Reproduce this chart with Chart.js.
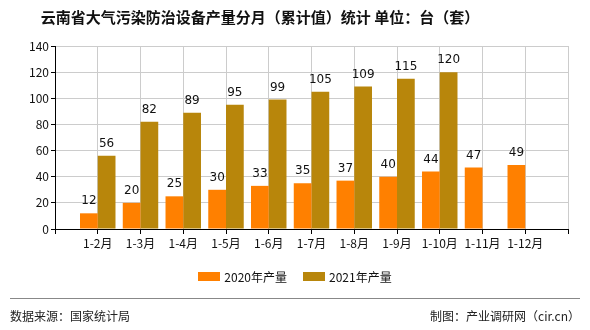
<!DOCTYPE html>
<html>
<head>
<meta charset="utf-8">
<script src="https://cdn.jsdelivr.net/npm/chart.js@4/dist/chart.umd.min.js"></script>
<style>
  html, body { margin: 0; padding: 0; background: #fff; }
  #wrap { position: relative; width: 590px; height: 330px; overflow: hidden; font-family: "Noto Sans CJK SC", "DejaVu Sans", sans-serif; }
  #title { position: absolute; left: 2px; top: 6px; width: 516px; text-align: center; font-size: 15px; font-weight: bold; color: #111; }
  #legend { position: absolute; left: 0; top: 268px; width: 590px; display: flex; justify-content: center; gap: 16px; font-size: 12px; color: #111; }
  #legend span.item { display: flex; align-items: center; }
  #legend i { display: inline-block; width: 22px; height: 9px; margin-right: 4px; }
  #rule { position: absolute; left: 10px; top: 298px; width: 570px; height: 1px; background: #888; }
  .foot { position: absolute; top: 307px; font-size: 12px; color: #222; }
  canvas { position: absolute; left: 0; top: 0; }
</style>
</head>
<body>
<div id="wrap">
  <canvas id="c" width="590" height="330"></canvas>
  <div id="title">云南省大气污染防治设备产量分月（累计值）统计 单位：台（套）</div>
  <div id="legend"></div>
  <div id="rule"></div>
  <div class="foot" style="left:10px">数据来源：国家统计局</div>
  <div class="foot" style="right:10px">制图：产业调研网（cir.cn）</div>
</div>
<script>
// categories (blank ends keep one empty slot at each side of the axis)
const categories = ['', '1-2月', '1-3月', '1-4月', '1-5月', '1-6月', '1-7月', '1-8月', '1-9月', '1-10月', '1-11月', '1-12月', ''];
const seriesNames = ['2020年产量', '2021年产量'];
const output2020 = [null, 12, 20, 25, 30, 33, 35, 37, 40, 44, 47, 49, null];
const output2021 = [null, 56, 82, 89, 95, 99, 105, 109, 115, 120, null, null, null];
const yTicks = [0, 20, 40, 60, 80, 100, 120, 140];

const colors = ['#ff8000', '#b8860b'];
const tickFont = { family: "'Noto Sans CJK SC', 'DejaVu Sans', sans-serif", size: 12 };

// legend in html
const legend = document.getElementById('legend');
seriesNames.forEach((name, i) => {
  const item = document.createElement('span');
  item.className = 'item';
  const sw = document.createElement('i');
  sw.style.background = colors[i];
  item.append(sw, document.createTextNode(name));
  legend.append(item);
});

const valueLabels = {
  id: 'valueLabels',
  afterDatasetsDraw(chart) {
    const ctx = chart.ctx;
    ctx.save();
    ctx.font = "12px 'DejaVu Sans', sans-serif";
    ctx.fillStyle = '#111';
    ctx.textAlign = 'center';
    ctx.textBaseline = 'bottom';
    chart.data.datasets.forEach((ds, i) => {
      chart.getDatasetMeta(i).data.forEach((bar, j) => {
        const v = ds.data[j];
        if (v === null || v === undefined) return;
        ctx.fillText(String(v), bar.x, bar.y - 6);
      });
    });
    ctx.restore();
  }
};

new Chart(document.getElementById('c'), {
  type: 'bar',
  data: {
    labels: categories,
    datasets: [
      { label: seriesNames[0], data: output2020, backgroundColor: colors[0], borderWidth: 0 },
      { label: seriesNames[1], data: output2021, backgroundColor: colors[1], borderWidth: 0 },
    ]
  },
  options: {
    responsive: false,
    animation: false,
    layout: { padding: { left: 0, right: 22, top: 46, bottom: 81 } },
    datasets: { bar: { barPercentage: 1, categoryPercentage: 0.83, skipNull: false } },
    plugins: { legend: { display: false }, title: { display: false }, tooltip: { enabled: false } },
    scales: {
      x: {
        offset: false,
        grid: { offset: false, color: '#cccccc', tickColor: '#000', tickLength: 5, drawTicks: true },
        border: { color: '#000', width: 1 },
        ticks: { color: '#111', font: tickFont, maxRotation: 0, autoSkip: false, padding: 2 },
        afterFit(scale) { scale.height = 20; }
      },
      y: {
        min: 0, max: 140,
        afterBuildTicks(scale) { scale.ticks = yTicks.map(v => ({ value: v })); },
        grid: { color: '#cccccc', tickColor: '#000', tickLength: 4 },
        border: { color: '#000', width: 1 },
        ticks: { color: '#111', font: tickFont, padding: 2 },
        afterFit(scale) { scale.width = 55; }
      }
    }
  },
  plugins: [valueLabels]
});
</script>
</body>
</html>
